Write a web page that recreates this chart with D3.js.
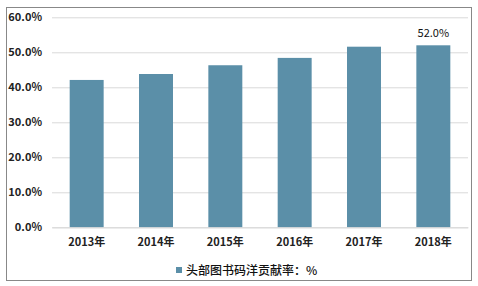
<!DOCTYPE html>
<html><head><meta charset="utf-8">
<script src="https://cdn.jsdelivr.net/npm/d3@7"></script>
<style>body{margin:0;background:#fff}svg{display:block}</style>
</head><body>
<script>
const categories = ["2013年","2014年","2015年","2016年","2017年","2018年"];
const values = [42.1, 43.8, 46.3, 48.4, 51.6, 52.0];
const yTicks = [0,10,20,30,40,50,60];
const seriesName = "头部图书码洋贡献率：%";
const labelled = ["2018年"];

const W = 478, H = 286;
const svg = d3.select("body").append("svg").attr("width", W).attr("height", H);
svg.append("rect").attr("x",6.5).attr("y",7.5).attr("width",465).attr("height",273)
  .attr("fill","#fff").attr("stroke","#888").attr("stroke-width",1);

const m = {l:52, r:468, t:17.3, b:227.3};
const x = d3.scaleBand().domain(categories).range([m.l, m.r]).paddingInner(0.51).paddingOuter(0.255);
const y = d3.scaleLinear().domain([0,60]).range([m.b, m.t]);
const font = "'Microsoft YaHei','Noto Sans CJK SC','DejaVu Sans',sans-serif";

const yAxis = svg.append("g").attr("transform",`translate(${m.l},0)`)
  .call(d3.axisLeft(y).tickValues(yTicks).tickSize(-(m.r-m.l)).tickFormat(d=>d.toFixed(1)+"%"));
yAxis.select(".domain").remove();
yAxis.selectAll(".tick line").attr("stroke","#d9d9d9");
yAxis.selectAll(".tick text").attr("x",-10).attr("fill","#222").attr("font-size","11px")
  .attr("font-weight","bold").attr("font-family",font);

svg.append("g").selectAll("rect").data(values).join("rect")
  .attr("x",(d,i)=>x(categories[i])).attr("width",x.bandwidth())
  .attr("y",d=>y(d)).attr("height",d=>y(0)-y(d)).attr("fill","#5b8fa8");

const xAxis = svg.append("g").attr("transform",`translate(0,${m.b})`)
  .call(d3.axisBottom(x).tickSize(0).tickPadding(11));
xAxis.select(".domain").attr("stroke","#d9d9d9");
xAxis.selectAll(".tick text").attr("fill","#222").attr("font-size","11px")
  .attr("font-weight","bold").attr("font-family",font);

svg.append("g").selectAll("text").data(values.filter((d,i)=>labelled.includes(categories[i]))).join("text")
  .attr("x",(d)=>x(categories[values.indexOf(d)])+x.bandwidth()/2).attr("y",d=>y(d)-8)
  .attr("text-anchor","middle").attr("font-size","11px").attr("fill","#111").attr("font-family",font)
  .text(d=>d.toFixed(1)+"%");

const lg = svg.append("g");
lg.append("rect").attr("x",176).attr("y",267).attr("width",6).attr("height",6).attr("fill","#5b8fa8");
lg.append("text").attr("x",186).attr("y",275).attr("font-size","12px").attr("fill","#111")
  .attr("font-weight","500").attr("font-family",font).text(seriesName);
</script>
</body></html>
